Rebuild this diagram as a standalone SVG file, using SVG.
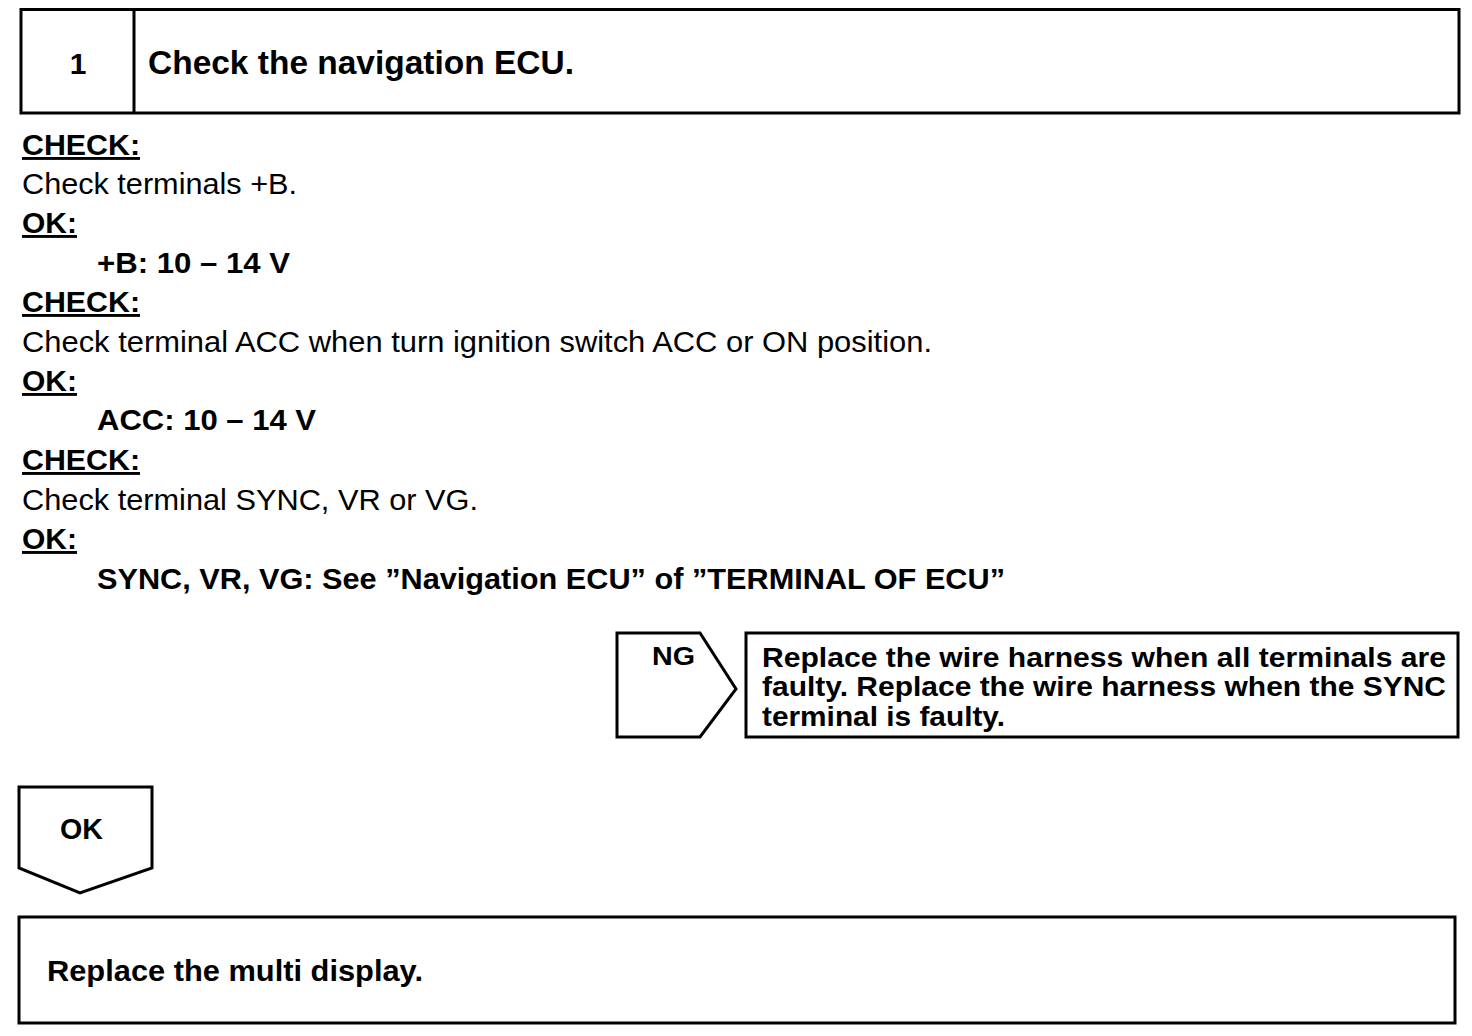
<svg xmlns="http://www.w3.org/2000/svg" width="1472" height="1036" viewBox="0 0 1472 1036">
<style>
.box{fill:#fff;stroke:#000;stroke-width:3}
text{font-family:"Liberation Sans",Arial,sans-serif;fill:#000}
.b{font-weight:bold}
.h{font-weight:bold;font-size:29px;text-decoration:underline}
.r{font-size:29.5px}
.v{font-weight:bold;font-size:29.5px}
.t{font-weight:bold;font-size:28.5px}
</style>
<rect width="1472" height="1036" fill="#fff"/>
<g id="step1">
<rect class="box" x="21" y="9.5" width="1438" height="103.5"/>
<line x1="134" y1="9.5" x2="134" y2="113" stroke="#000" stroke-width="3"/>
<text class="b" x="78" y="74" font-size="30" text-anchor="middle">1</text>
<text class="b" x="148" y="74" font-size="33" textLength="426" lengthAdjust="spacingAndGlyphs">Check the navigation ECU.</text>
</g>
<g id="checks">
<text class="h" x="22" y="155" textLength="118" lengthAdjust="spacingAndGlyphs">CHECK:</text>
<text class="r" x="22" y="194" textLength="275" lengthAdjust="spacingAndGlyphs">Check terminals +B.</text>
<text class="h" x="22" y="233" textLength="55" lengthAdjust="spacingAndGlyphs">OK:</text>
<text class="v" x="97" y="273" textLength="193" lengthAdjust="spacingAndGlyphs">+B: 10 – 14 V</text>
<text class="h" x="22" y="312" textLength="118" lengthAdjust="spacingAndGlyphs">CHECK:</text>
<text class="r" x="22" y="352" textLength="910" lengthAdjust="spacingAndGlyphs">Check terminal ACC when turn ignition switch ACC or ON position.</text>
<text class="h" x="22" y="391" textLength="55" lengthAdjust="spacingAndGlyphs">OK:</text>
<text class="v" x="97" y="430" textLength="219" lengthAdjust="spacingAndGlyphs">ACC: 10 – 14 V</text>
<text class="h" x="22" y="470" textLength="118" lengthAdjust="spacingAndGlyphs">CHECK:</text>
<text class="r" x="22" y="510" textLength="456" lengthAdjust="spacingAndGlyphs">Check terminal SYNC, VR or VG.</text>
<text class="h" x="22" y="549" textLength="55" lengthAdjust="spacingAndGlyphs">OK:</text>
<text class="v" x="97" y="589" textLength="908" lengthAdjust="spacingAndGlyphs">SYNC, VR, VG: See ”Navigation ECU” of ”TERMINAL OF ECU”</text>
</g>
<g id="ng">
<polygon class="box" points="617,633 700,633 736,689 700,737 617,737"/>
<text class="b" x="652" y="665" font-size="26" textLength="43" lengthAdjust="spacingAndGlyphs">NG</text>
</g>
<g id="ng-action">
<rect class="box" x="746" y="633" width="712" height="104"/>
<text class="t" x="762" y="667" textLength="684" lengthAdjust="spacingAndGlyphs">Replace the wire harness when all terminals are</text>
<text class="t" x="762" y="696" textLength="684" lengthAdjust="spacingAndGlyphs">faulty. Replace the wire harness when the SYNC</text>
<text class="t" x="762" y="726" textLength="243" lengthAdjust="spacingAndGlyphs">terminal is faulty.</text>
</g>
<g id="ok">
<polygon class="box" points="19,787 152,787 152,868 80,893 19,868"/>
<text class="b" x="60" y="839" font-size="29" textLength="43" lengthAdjust="spacingAndGlyphs">OK</text>
</g>
<g id="ok-action">
<rect class="box" x="19" y="917" width="1436" height="106"/>
<text class="b" x="47" y="981" font-size="29" textLength="376" lengthAdjust="spacingAndGlyphs">Replace the multi display.</text>
</g>
<g id="connectors"></g>
</svg>
